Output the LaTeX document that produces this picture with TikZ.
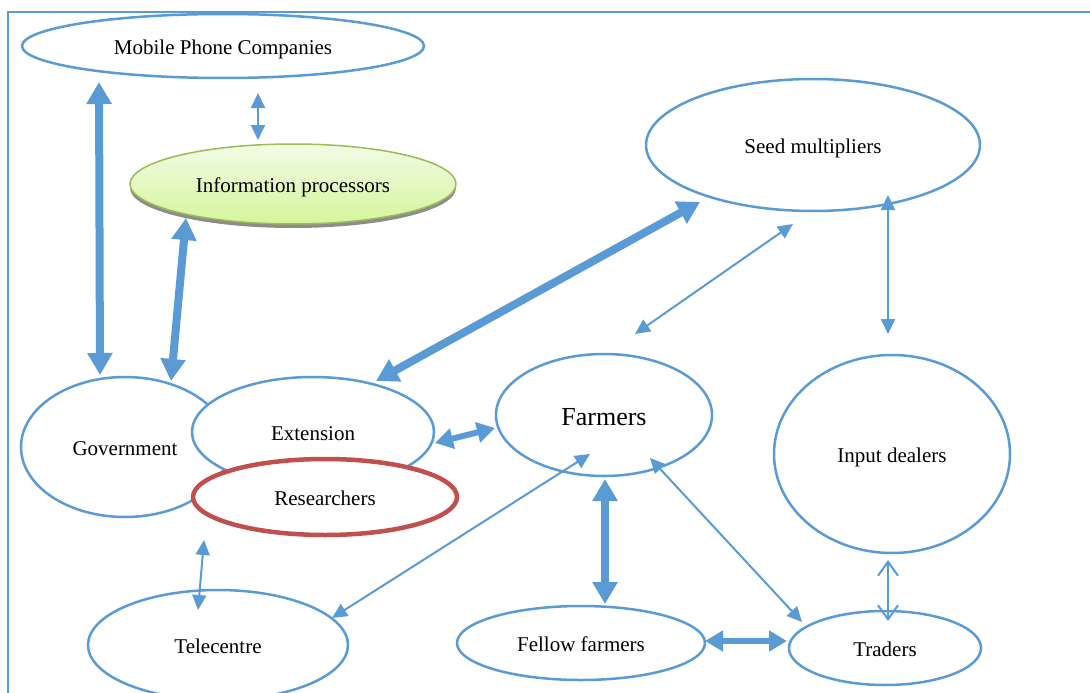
\documentclass[tikz,border=0pt]{standalone}
\usepackage{fontspec}
\setmainfont{Liberation Serif}
\usetikzlibrary{shapes.geometric,arrows.meta,shadows}
\definecolor{bl}{HTML}{5B9BD5}
\definecolor{rd}{HTML}{C0504D}
\definecolor{gr}{HTML}{9BBB59}
\definecolor{lgtop}{HTML}{F2FBE6}
\definecolor{lgbot}{HTML}{D6F59C}
\begin{document}
\begin{tikzpicture}[x=1pt,y=-1pt,
  ent/.style={ellipse, draw=bl, line width=2.5pt, fill=white, inner sep=0pt,
    font=\fontsize{21}{25}\selectfont, text height=22pt, text depth=5pt},
  thinarr/.style={draw=bl, line width=2pt,
    {Triangle[length=15pt,width=14pt]}-{Triangle[length=15pt,width=14pt]}},
  openarr/.style={draw=bl, line width=2pt,
    {Straight Barb[length=14pt,width=20pt]}-{Straight Barb[length=14pt,width=20pt]}},
  medarr/.style={draw=bl, line width=6pt,
    {Triangle[length=18pt,width=20pt]}-{Triangle[length=18pt,width=20pt]}},
  bigarr/.style={draw=bl, line width=8pt,
    {Triangle[length=22pt,width=24pt]}-{Triangle[length=22pt,width=24pt]}},
  frame/.style={draw=bl, line width=2pt}
]
\useasboundingbox (0,0) rectangle (1090,693);
\fill[white] (0,0) rectangle (1090,693);
\draw[frame] (8,693) -- (8,12) -- (1090,12);

% nodes
\node[ent, minimum width=402pt, minimum height=64pt] (mpc) at (223,46) {Mobile Phone Companies};
\node[ellipse, draw=gr, line width=1.5pt, inner sep=0pt, top color=lgtop, bottom color=lgbot,
  drop shadow={shadow xshift=0pt, shadow yshift=-4pt, fill=black!45, opacity=1},
  font=\fontsize{21}{25}\selectfont, text height=22pt, text depth=5pt,
  minimum width=326pt, minimum height=80pt] (info) at (293,184) {Information processors};
\node[ent, minimum width=334pt, minimum height=132pt] (seed) at (813,145) {Seed multipliers};
\node[ent, minimum width=208pt, minimum height=140pt] (gov) at (125,447) {Government};
\node[ent, minimum width=242pt, minimum height=110pt] (ext) at (313,432) {Extension};
\node[ent, draw=rd, line width=4.5pt, minimum width=264pt, minimum height=76pt] (res) at (325,497) {Researchers};
\node[ent, minimum width=216pt, minimum height=122pt, font=\fontsize{26}{30}\selectfont,
  text height=27pt, text depth=6pt] (farm) at (604,415) {Farmers};
\node[ent, minimum width=236pt, minimum height=198pt] (inp) at (892,454) {Input dealers};
\node[ent, minimum width=260pt, minimum height=110pt] (tel) at (218,645) {Telecentre};
\node[ent, minimum width=248pt, minimum height=74pt] (fel) at (581,643) {Fellow farmers};
\node[ent, minimum width=192pt, minimum height=74pt] (trd) at (885,648) {Traders};

% connectors
\draw[bigarr] ([shift={(-124,36)}]mpc.center) -- ([shift={(-25,-72)}]gov.center);
\draw[thinarr] ([shift={(35,47)}]mpc.center) -- ([shift={(-35,-44)}]info.center);
\draw[bigarr] ([shift={(-107,34)}]info.center) -- ([shift={(46,-66)}]gov.center);
\draw[bigarr] ([shift={(63,-51)}]ext.center) -- ([shift={(-113,57)}]seed.center);
\draw[thinarr] ([shift={(-20,79)}]seed.center) -- ([shift={(31,-81)}]farm.center);
\draw[thinarr] ([shift={(75,50)}]seed.center) -- ([shift={(-4,-120)}]inp.center);
\draw[medarr] ([shift={(122,11)}]ext.center) -- ([shift={(-109,13)}]farm.center);
\draw[thinarr] ([shift={(-14,39)}]farm.center) -- ([shift={(114,-27)}]tel.center);
\draw[bigarr] ([shift={(1,64)}]farm.center) -- ([shift={(24,-39)}]fel.center);
\draw[thinarr] ([shift={(46,43)}]farm.center) -- ([shift={(-83,-26)}]trd.center);
\draw[medarr] ([shift={(124,-2)}]fel.center) -- ([shift={(-98,-7)}]trd.center);
\draw[openarr] ([shift={(-4,106)}]inp.center) -- ([shift={(3,-27)}]trd.center);
\draw[thinarr] ([shift={(-121,43)}]res.center) -- ([shift={(-20,-35)}]tel.center);
\end{tikzpicture}
\end{document}
